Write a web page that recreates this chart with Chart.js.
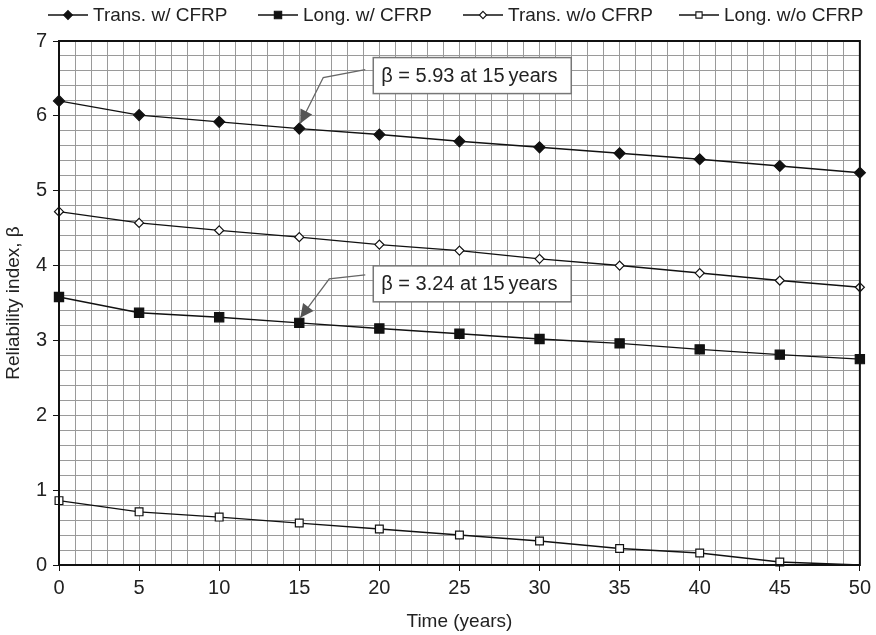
<!DOCTYPE html>
<html>
<head>
<meta charset="utf-8">
<script src="https://cdn.jsdelivr.net/npm/chart.js@4.4.1/dist/chart.umd.min.js"></script>
<style>
  html, body { margin: 0; padding: 0; background: #fff; }
  #wrap { width: 876px; height: 635px; }
</style>
</head>
<body>
<div id="wrap"><canvas id="chart" width="876" height="635"></canvas></div>
<script>
// --------------------------------------------------
//  DATA
// --------------------------------------------------
const years = [0, 5, 10, 15, 20, 25, 30, 35, 40, 45, 50];
const transWithCfrp = [6.20, 6.01, 5.92, 5.83, 5.75, 5.66, 5.58, 5.50, 5.42, 5.33, 5.24];
const longWithCfrp = [3.58, 3.37, 3.31, 3.235, 3.16, 3.09, 3.02, 2.96, 2.88, 2.81, 2.75];
const transNoCfrp = [4.72, 4.57, 4.47, 4.38, 4.28, 4.20, 4.09, 4.00, 3.90, 3.80, 3.71];
const longNoCfrp = [0.86, 0.71, 0.64, 0.56, 0.48, 0.40, 0.32, 0.22, 0.16, 0.04, 0.00];
const seriesNames = ['Trans. w/ CFRP', 'Long. w/ CFRP', 'Trans. w/o CFRP', 'Long. w/o CFRP'];
const notes = [
    { text: '\u03b2 = 5.93 at 15\u2009years', series: 0, year: 15 },
    { text: '\u03b2 = 3.24 at 15\u2009years', series: 1, year: 15 }
];

const FONT = '"Liberation Sans", Arial, sans-serif';

function toPoints(vals) {
    return years.map((y, i) => ({ x: y, y: vals[i] }));
}

// marker look per series
const markers = [
    { style: 'rectRot', fill: '#111', radius: 5.5 },
    { style: 'rect', fill: '#111', radius: 6.5 },
    { style: 'rectRot', fill: '#fff', radius: 4.5 },
    { style: 'rect', fill: '#fff', radius: 5.5 }
];

function makeSet(i, vals) {
    const m = markers[i];
    return {
        label: seriesNames[i],
        data: toPoints(vals),
        borderColor: '#111',
        borderWidth: 1.4,
        pointStyle: m.style,
        pointBackgroundColor: m.fill,
        pointBorderColor: '#111',
        pointBorderWidth: 1.2,
        pointRadius: vals.map((v, k) => (i === 3 && k === vals.length - 1) ? 0 : m.radius),
        tension: 0,
        clip: false
    };
}

// --------------------------------------------------
//  PLUGINS
// --------------------------------------------------
const frameAndLegend = {
    id: 'frameAndLegend',
    afterDatasetsDraw(chart) {
        const ctx = chart.ctx;
        const a = chart.chartArea;
        ctx.save();
        ctx.strokeStyle = '#111';
        ctx.lineWidth = 2;
        ctx.strokeRect(a.left, a.top, a.right - a.left, a.bottom - a.top);

        // annotations
        const xs = chart.scales.x, ys = chart.scales.y;
        const offs = [
            { bx: 74, by: -71, sx: 66, sy: -59, ex: 24, ey: -51 },
            { bx: 74, by: -57, sx: 66, sy: -48, ex: 30, ey: -44 }
        ];
        const allVals = [transWithCfrp, longWithCfrp];
        notes.forEach((n, i) => {
            const v = allVals[n.series][years.indexOf(n.year)];
            const px = xs.getPixelForValue(n.year);
            const py = ys.getPixelForValue(v);
            const o = offs[i];
            const tipX = px + 1, tipY = py - 5;
            ctx.strokeStyle = '#666';
            ctx.lineWidth = 1.3;
            ctx.beginPath();
            ctx.moveTo(px + o.sx, py + o.sy);
            ctx.lineTo(px + o.ex, py + o.ey);
            ctx.lineTo(tipX, tipY);
            ctx.stroke();
            // arrow head
            const ang = Math.atan2(tipY - (py + o.ey), tipX - (px + o.ex));
            ctx.fillStyle = '#555';
            ctx.beginPath();
            ctx.moveTo(tipX, tipY);
            ctx.lineTo(tipX - 15 * Math.cos(ang - 0.45), tipY - 15 * Math.sin(ang - 0.45));
            ctx.lineTo(tipX - 15 * Math.cos(ang + 0.45), tipY - 15 * Math.sin(ang + 0.45));
            ctx.closePath();
            ctx.fill();
            // box
            const bx = px + o.bx, by = py + o.by;
            ctx.fillStyle = '#fff';
            ctx.fillRect(bx, by, 198, 36);
            ctx.strokeStyle = '#777';
            ctx.lineWidth = 1.5;
            ctx.strokeRect(bx, by, 198, 36);
            ctx.fillStyle = '#222';
            ctx.font = '20px ' + FONT;
            ctx.textAlign = 'left';
            ctx.textBaseline = 'middle';
            ctx.fillText(n.text, bx + 8, by + 19);
        });

        // legend
        const lx = [48, 258, 463, 679];
        const ly = 15;
        ctx.font = '19px ' + FONT;
        ctx.textBaseline = 'middle';
        seriesNames.forEach((name, i) => {
            const x0 = lx[i];
            const m = markers[i];
            const r = m.radius * 0.8;
            ctx.strokeStyle = '#111';
            ctx.lineWidth = 1.3;
            ctx.beginPath();
            ctx.moveTo(x0, ly);
            ctx.lineTo(x0 + 40, ly);
            ctx.stroke();
            ctx.fillStyle = m.fill;
            ctx.lineWidth = 1.1;
            ctx.beginPath();
            if (m.style === 'rectRot') {
                ctx.moveTo(x0 + 20, ly - r); ctx.lineTo(x0 + 20 + r, ly);
                ctx.lineTo(x0 + 20, ly + r); ctx.lineTo(x0 + 20 - r, ly);
            } else {
                const s = r * Math.SQRT1_2;
                ctx.rect(x0 + 20 - s, ly - s, 2 * s, 2 * s);
            }
            ctx.closePath();
            ctx.fill();
            ctx.stroke();
            ctx.fillStyle = '#222';
            ctx.fillText(name, x0 + 45, ly + 1);
        });
        ctx.restore();
    }
};

// --------------------------------------------------
//  CHART
// --------------------------------------------------
const isWhole = (v, step) => Math.abs(v / step - Math.round(v / step)) < 1e-6;

new Chart(document.getElementById('chart'), {
    type: 'line',
    data: {
        datasets: [
            makeSet(0, transWithCfrp),
            makeSet(1, longWithCfrp),
            makeSet(2, transNoCfrp),
            makeSet(3, longNoCfrp)
        ]
    },
    options: {
        responsive: false,
        animation: false,
        layout: { padding: { left: 0, right: 16, top: 41, bottom: 0 } },
        plugins: {
            legend: { display: false },
            tooltip: { enabled: false }
        },
        scales: {
            x: {
                type: 'linear',
                min: 0,
                max: 50,
                afterFit: s => { s.height = 70; },
                ticks: {
                    stepSize: 1,
                    autoSkip: false,
                    maxRotation: 0,
                    padding: 5,
                    color: '#222',
                    font: { family: FONT, size: 20 },
                    callback: v => isWhole(v, 5) ? String(Math.round(v)) : ''
                },
                grid: {
                    color: '#9a9a9a',
                    lineWidth: 1,
                    tickLength: 6,
                    tickColor: c => isWhole(c.tick.value, 5) ? '#111' : 'rgba(0,0,0,0)'
                },
                border: { display: false },
                title: {
                    display: true,
                    text: 'Time (years)',
                    color: '#222',
                    font: { family: FONT, size: 19 },
                    padding: { top: 0, bottom: 2 }
                }
            },
            y: {
                min: 0,
                max: 7,
                afterFit: s => { s.width = 59; },
                ticks: {
                    stepSize: 0.2,
                    autoSkip: false,
                    padding: 6,
                    color: '#222',
                    font: { family: FONT, size: 20 },
                    callback: v => isWhole(v, 1) ? String(Math.round(v)) : ''
                },
                grid: {
                    color: '#9a9a9a',
                    lineWidth: 1,
                    tickLength: 6,
                    tickColor: c => isWhole(c.tick.value, 1) ? '#111' : 'rgba(0,0,0,0)'
                },
                border: { display: false },
                title: {
                    display: true,
                    text: 'Reliability index, \u03b2',
                    color: '#222',
                    font: { family: FONT, size: 19 },
                    padding: { top: 2, bottom: 0 }
                }
            }
        }
    },
    plugins: [frameAndLegend]
});
</script>
</body>
</html>
